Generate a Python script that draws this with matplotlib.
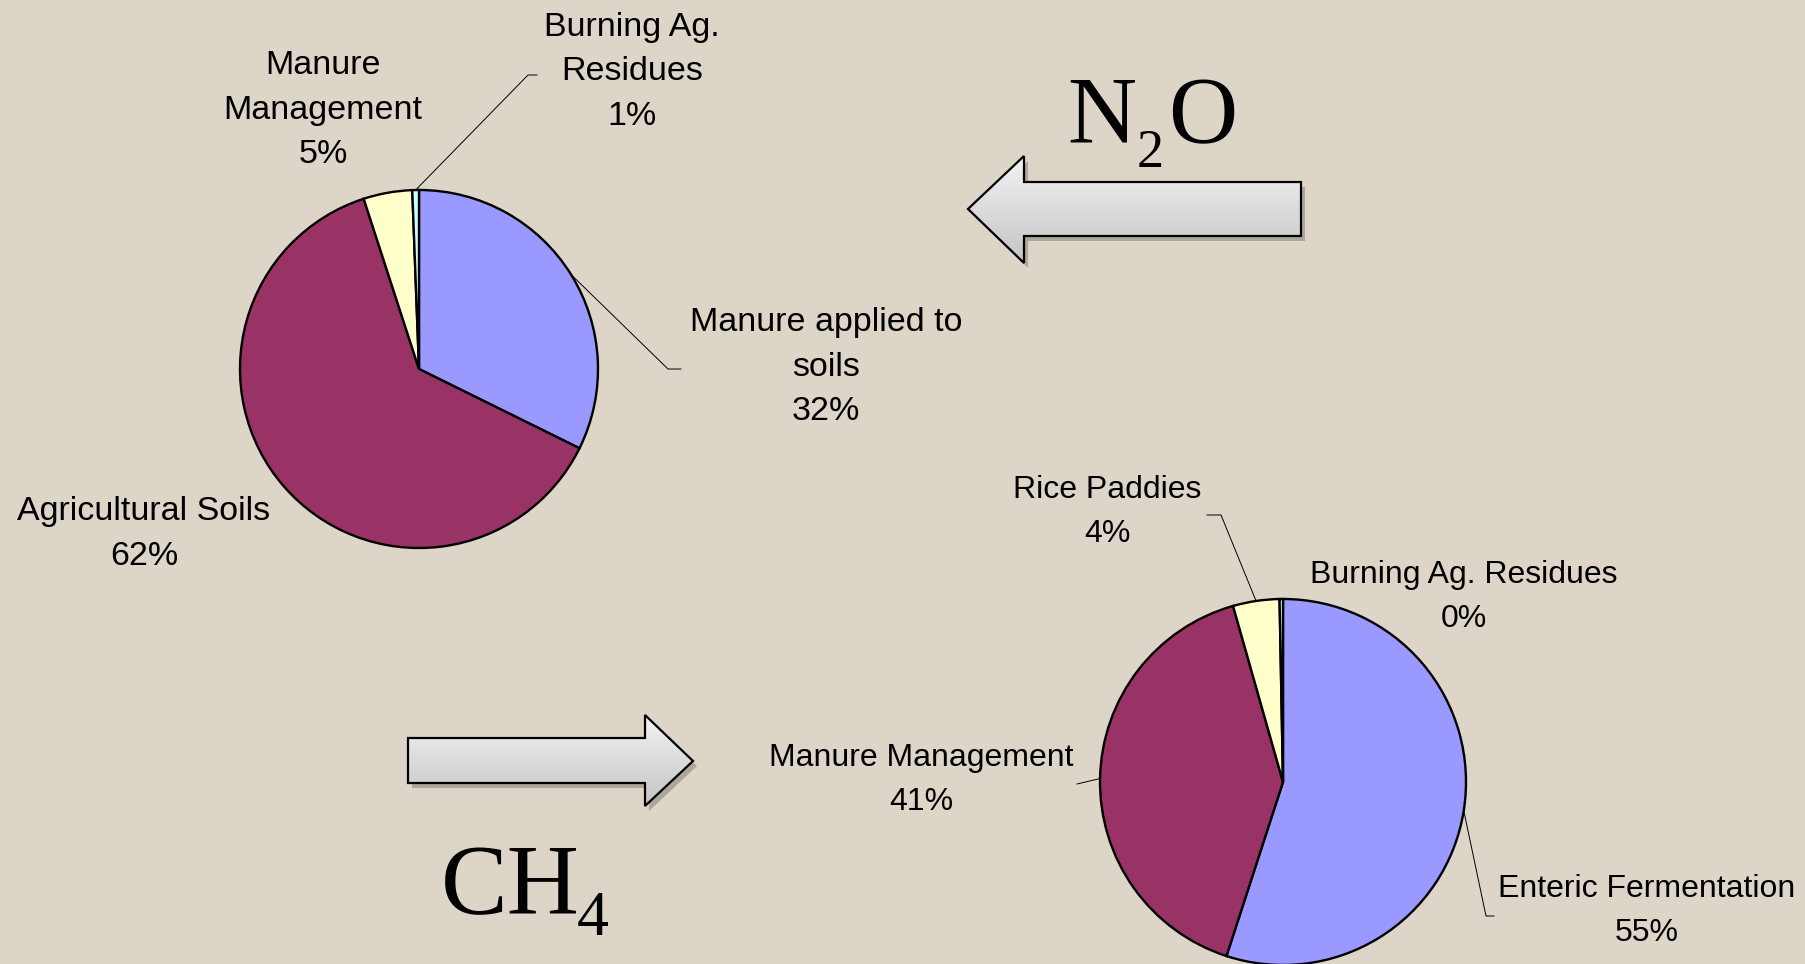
import numpy as np
import matplotlib.pyplot as plt
from matplotlib.patches import Polygon
from matplotlib.colors import LinearSegmentedColormap

W, H = 1806, 964

# data
n2o_labels = ["Manure applied to\nsoils\n32%", "Agricultural Soils\n62%",
              "Manure\nManagement\n5%", "Burning Ag.\nResidues\n1%"]
n2o_values = [32.3, 62.7, 4.4, 0.6]

ch4_labels = ["Enteric Fermentation\n55%", "Manure Management\n41%",
              "Rice Paddies\n4%", "Burning Ag. Residues\n0%"]
ch4_values = [55.0, 40.6, 4.1, 0.3]

slice_colors = ["#9999FF", "#993366", "#FFFFCC", "#CCFFFF"]

# layout (pixel coords, y down)
n2o_center, n2o_radius = (419, 369), 179
ch4_center, ch4_radius = (1283, 782), 183
n2o_text_pos = [(826, 367), (144, 534), (323, 110), (632, 72)]
n2o_leaders = [[(668, 369), (681, 369)], None, None, [(528, 75), (537, 75)]]
ch4_text_pos = [(1647, 911), (921, 780), (1107, 512), (1464, 597)]
ch4_leaders = [[(1486, 916), (1494, 916)], [(1077, 784)],
               [(1221, 515), (1207, 515)], None]

bg = "#DDD5C7"
fig = plt.figure(figsize=(W / 100, H / 100), dpi=100, facecolor=bg)
ax = fig.add_axes([0, 0, 1, 1])


def draw_pie(values, center, radius, labels, text_pos, leaders, size):
    # y axis is inverted, so counterclock in data = clockwise on screen
    wedges, _ = ax.pie(values, colors=slice_colors, center=center, radius=radius,
                       startangle=-90, counterclock=True,
                       wedgeprops=dict(edgecolor="black", linewidth=1.7))
    for w, lab, pos, lead in zip(wedges, labels, text_pos, leaders):
        ax.text(pos[0], pos[1], lab, ha="center", va="center", fontsize=size,
                family="Liberation Sans", linespacing=1.58, color="black")
        if lead is not None:
            mid = np.deg2rad((w.theta1 + w.theta2) / 2)
            start = (center[0] + radius * np.cos(mid), center[1] + radius * np.sin(mid))
            pts = [start] + lead
            ax.plot([p[0] for p in pts], [p[1] for p in pts], color="black", lw=0.7)


def draw_arrow(pts):
    pts = np.array(pts, dtype=float)
    ax.add_patch(Polygon(pts + [4, 5], closed=True, fc=(0, 0, 0, 0.22), ec="none", zorder=2))
    poly = Polygon(pts, closed=True, fc="none", ec="black", lw=1.6, zorder=4)
    ax.add_patch(poly)
    grad = np.linspace(0, 1, 100)[:, None]
    cmap = LinearSegmentedColormap.from_list("g", ["#f3f3f3", "#c4c4c4"])
    im = ax.imshow(grad, cmap=cmap, aspect="auto", zorder=3,
                   extent=(pts[:, 0].min(), pts[:, 0].max(), pts[:, 1].max(), pts[:, 1].min()))
    im.set_clip_path(poly)


draw_pie(n2o_values, n2o_center, n2o_radius, n2o_labels, n2o_text_pos, n2o_leaders, 24.5)
draw_pie(ch4_values, ch4_center, ch4_radius, ch4_labels, ch4_text_pos, ch4_leaders, 23)

draw_arrow([(968, 209), (1024, 156), (1024, 182), (1301, 182),
            (1301, 236), (1024, 236), (1024, 263)])
draw_arrow([(408, 738), (645, 738), (645, 715), (693, 761),
            (645, 806), (645, 783), (408, 783)])

serif = "Liberation Serif"
ax.text(1067, 143, "N", fontsize=69, family=serif, va="baseline", ha="left")
ax.text(1137, 167, "2", fontsize=39, family=serif, va="baseline", ha="left")
ax.text(1168, 143, "O", fontsize=69, family=serif, va="baseline", ha="left")
ax.text(441, 913, "CH", fontsize=72, family=serif, va="baseline", ha="left")
ax.text(577, 935, "4", fontsize=46, family=serif, va="baseline", ha="left")

ax.set_xlim(0, W)
ax.set_ylim(H, 0)
ax.set_aspect("auto")
ax.axis("off")

fig.savefig("out.png", dpi=100, facecolor=bg)
